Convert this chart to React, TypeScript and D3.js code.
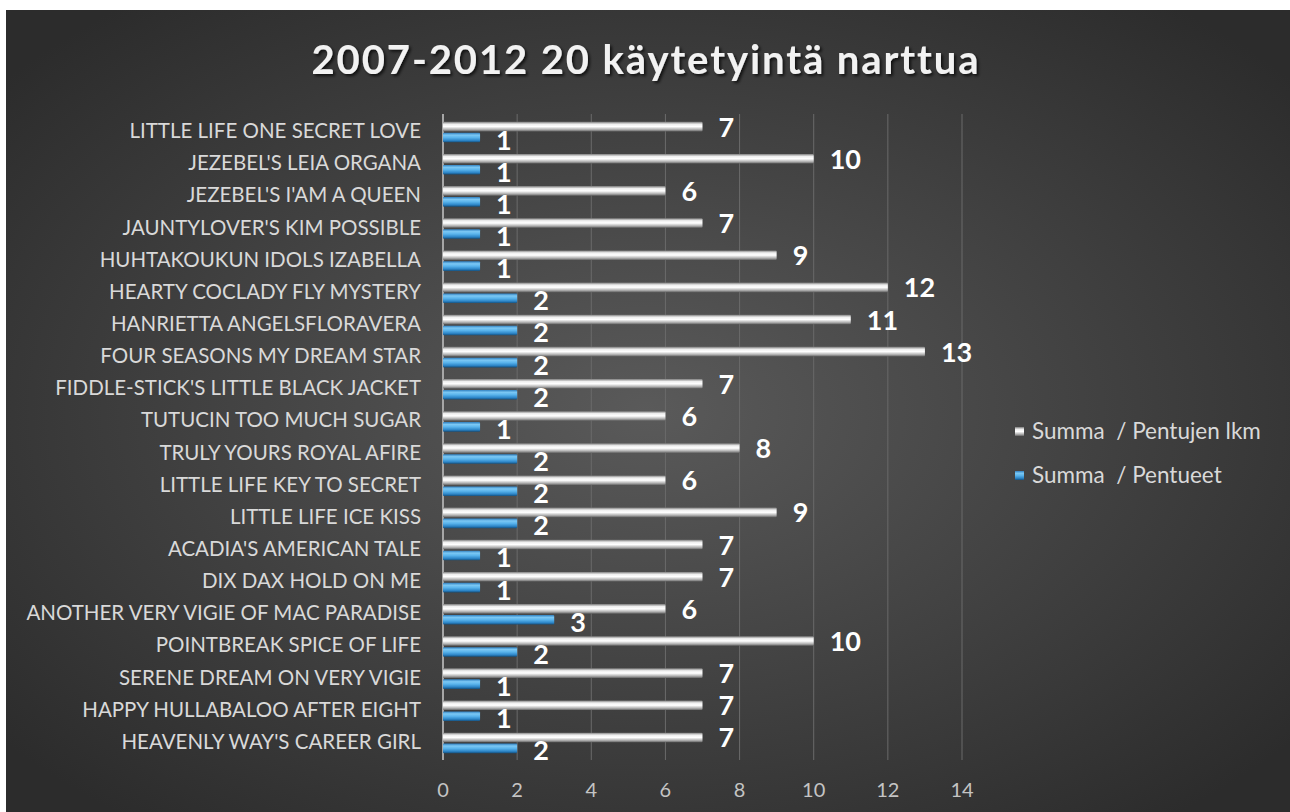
import React from "react";
import * as d3 from "d3";

const categories: string[] = [
  "LITTLE LIFE ONE SECRET LOVE",
  "JEZEBEL'S LEIA ORGANA",
  "JEZEBEL'S I'AM A QUEEN",
  "JAUNTYLOVER'S KIM POSSIBLE",
  "HUHTAKOUKUN IDOLS IZABELLA",
  "HEARTY COCLADY FLY MYSTERY",
  "HANRIETTA ANGELSFLORAVERA",
  "FOUR SEASONS MY DREAM STAR",
  "FIDDLE-STICK'S LITTLE BLACK JACKET",
  "TUTUCIN TOO MUCH SUGAR",
  "TRULY YOURS ROYAL AFIRE",
  "LITTLE LIFE KEY TO SECRET",
  "LITTLE LIFE ICE KISS",
  "ACADIA'S AMERICAN TALE",
  "DIX DAX HOLD ON ME",
  "ANOTHER VERY VIGIE OF MAC PARADISE",
  "POINTBREAK SPICE OF LIFE",
  "SERENE DREAM ON VERY VIGIE",
  "HAPPY HULLABALOO AFTER EIGHT",
  "HEAVENLY WAY'S CAREER GIRL",
];

const pentujenLkm: number[] = [7, 10, 6, 7, 9, 12, 11, 13, 7, 6, 8, 6, 9, 7, 7, 6, 10, 7, 7, 7];
const pentueet: number[] = [1, 1, 1, 1, 1, 2, 2, 2, 2, 1, 2, 2, 2, 1, 1, 3, 2, 1, 1, 2];
const xTicks: number[] = [0, 2, 4, 6, 8, 10, 12, 14];
const seriesNames: string[] = ["Summa  / Pentujen lkm", "Summa  / Pentueet"];
const title = "2007-2012 20 käytetyintä narttua";

const W = 1290;
const H = 812;
const FONT = "Lato, 'Open Sans', sans-serif";

export default function App() {
  const x = d3.scaleLinear().domain([0, 14]).range([443, 962]);
  const y = d3.scaleBand<string>().domain(categories).range([116, 759]).paddingInner(0.36).paddingOuter(0.18);
  const sub = d3.scaleBand<number>().domain([0, 1]).range([0, y.bandwidth()]).paddingInner(0.12);
  const barH = sub.bandwidth();

  return (
    <svg width={W} height={H} style={{ position: "absolute", left: 0, top: 0 }}>
      <defs>
        <radialGradient id="bg" cx="50%" cy="50%" r="65%">
          <stop offset="0%" stopColor="#5a5a5a" />
          <stop offset="100%" stopColor="#2c2c2c" />
        </radialGradient>
        <linearGradient id="gray" x1="0" y1="0" x2="0" y2="1">
          <stop offset="0%" stopColor="#7a7a7a" />
          <stop offset="25%" stopColor="#eeeeee" />
          <stop offset="50%" stopColor="#ffffff" />
          <stop offset="80%" stopColor="#b0b0b0" />
          <stop offset="100%" stopColor="#646464" />
        </linearGradient>
        <linearGradient id="blue" x1="0" y1="0" x2="0" y2="1">
          <stop offset="0%" stopColor="#2f7fbf" />
          <stop offset="25%" stopColor="#7cc8f4" />
          <stop offset="50%" stopColor="#5ab4ec" />
          <stop offset="80%" stopColor="#2d86c8" />
          <stop offset="100%" stopColor="#14507e" />
        </linearGradient>
        <filter id="shadow" x="-10%" y="-30%" width="120%" height="160%">
          <feDropShadow dx="2" dy="2" stdDeviation="1.5" floodColor="#000" floodOpacity="0.7" />
        </filter>
      </defs>
      <rect x={6} y={10} width={W - 6} height={H - 10} fill="url(#bg)" />
      <text
        x={646}
        y={74}
        textAnchor="middle"
        fill="#f2f2f2"
        fontFamily={FONT}
        fontWeight="bold"
        fontSize={40}
        letterSpacing={1.9}
        filter="url(#shadow)"
      >
        {title}
      </text>
      {xTicks.map((t) => (
        <line key={"g" + t} x1={x(t)} x2={x(t)} y1={114} y2={760} stroke={t === 0 ? "#a6a6a6" : "#6a6a6a"} strokeWidth={t === 0 ? 2 : 1} />
      ))}
      {xTicks.map((t) => (
        <text key={"t" + t} x={x(t)} y={797} textAnchor="middle" fill="#c4c4c4" fontFamily={FONT} fontSize={20}>
          {t}
        </text>
      ))}
      {categories.map((c) => (
        <text
          key={"c" + c}
          x={421}
          y={(y(c) as number) + y.bandwidth() / 2 + 6}
          textAnchor="end"
          fill="#d9d9d9"
          fontFamily={FONT}
          fontSize={20.5}
        >
          {c}
        </text>
      ))}
      {categories.map((c, i) => {
        const y0 = y(c) as number;
        const g = y0 + (sub(0) as number);
        const b = y0 + (sub(1) as number);
        return (
          <g key={"b" + c}>
            <rect x={x(0)} y={g} width={x(pentujenLkm[i]) - x(0)} height={barH} fill="url(#gray)" rx={1} />
            <rect x={x(0)} y={b} width={x(pentueet[i]) - x(0)} height={barH} fill="url(#blue)" rx={1} />
            <text x={x(pentujenLkm[i]) + 16} y={g + barH / 2 + 10} fill="#ffffff" fontFamily={FONT} fontWeight="bold" fontSize={27}>
              {pentujenLkm[i]}
            </text>
            <text x={x(pentueet[i]) + 16} y={b + barH / 2 + 12} fill="#ffffff" fontFamily={FONT} fontWeight="bold" fontSize={27}>
              {pentueet[i]}
            </text>
          </g>
        );
      })}
      {seriesNames.map((s, i) => (
        <g key={"l" + s} transform={`translate(1015, ${432 + i * 44})`}>
          <rect x={0} y={-5} width={9} height={9} fill={i === 0 ? "url(#gray)" : "url(#blue)"} />
          <text x={17} y={7} fill="#d9d9d9" fontFamily={FONT} fontSize={22.5} style={{ whiteSpace: "pre" }}>
            {s}
          </text>
        </g>
      ))}
    </svg>
  );
}
